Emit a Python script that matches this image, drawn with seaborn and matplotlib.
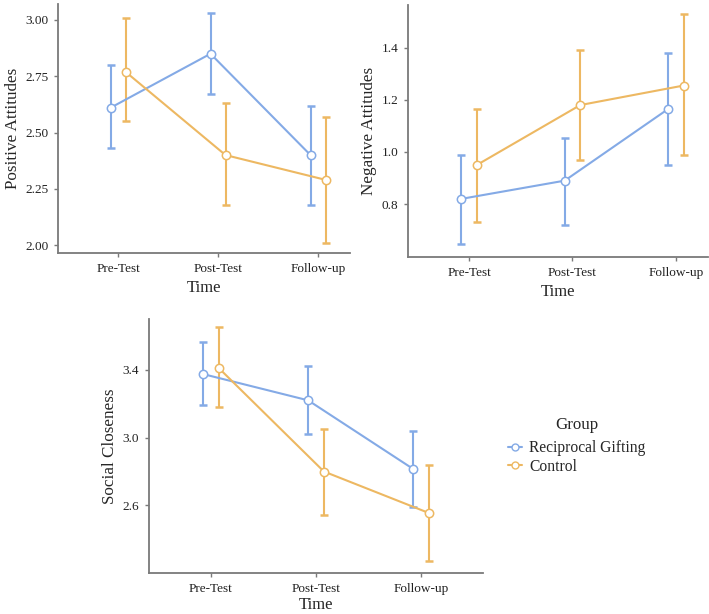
import matplotlib
matplotlib.use("Agg")
import matplotlib.pyplot as plt
import numpy as np
import pandas as pd
import seaborn as sns

times = ["Pre-Test", "Post-Test", "Follow-up"]
groups = ["Reciprocal Gifting", "Control"]

# Positive attitudes: mean, lower, upper
pos_rg_mean = [2.61, 2.85, 2.40]
pos_rg_lo = [2.43, 2.67, 2.18]
pos_rg_hi = [2.80, 3.03, 2.62]
pos_ct_mean = [2.77, 2.40, 2.29]
pos_ct_lo = [2.55, 2.18, 2.01]
pos_ct_hi = [3.01, 2.63, 2.57]

# Negative attitudes
neg_rg_mean = [0.82, 0.89, 1.165]
neg_rg_lo = [0.645, 0.72, 0.95]
neg_rg_hi = [0.99, 1.055, 1.38]
neg_ct_mean = [0.95, 1.18, 1.255]
neg_ct_lo = [0.73, 0.97, 0.99]
neg_ct_hi = [1.165, 1.39, 1.53]

# Social closeness
soc_rg_mean = [3.375, 3.22, 2.815]
soc_rg_lo = [3.19, 3.02, 2.59]
soc_rg_hi = [3.565, 3.42, 3.04]
soc_ct_mean = [3.41, 2.80, 2.555]
soc_ct_lo = [3.18, 2.545, 2.27]
soc_ct_hi = [3.65, 3.05, 2.84]

COLOURS = {"Reciprocal Gifting": "#84AAE6", "Control": "#EDB862"}
AXIS_GREY = "#7a7a7a"
DODGE = 0.075

sns.set_style("ticks")
plt.rcParams["font.family"] = ["Liberation Serif", "DejaVu Serif"]


def make_frame(rg, ct):
    rows = []
    for g, (m, lo, hi) in zip(groups, [rg, ct]):
        off = -DODGE if g == groups[0] else DODGE
        for i, t in enumerate(times):
            rows.append({"time": t, "group": g, "x": i + 1 + off,
                         "mean": m[i], "lo": lo[i], "hi": hi[i]})
    return pd.DataFrame(rows)


def draw(ax, df, ylabel, yticks, fmt, ylim, xlim, xpad=4):
    for g in groups:
        d = df[df["group"] == g]
        ax.errorbar(d["x"], d["mean"], yerr=[d["mean"] - d["lo"], d["hi"] - d["mean"]],
                    fmt="none", ecolor=COLOURS[g], elinewidth=1.5, capsize=3,
                    capthick=1.8, zorder=2)
    n_before = len(ax.lines)
    sns.lineplot(data=df, x="x", y="mean", hue="group", hue_order=groups,
                 palette=COLOURS, marker="o", markersize=6, linewidth=1.5,
                 sort=True, ax=ax, legend=False, zorder=3)
    for ln in ax.lines[n_before:]:
        c = ln.get_color()
        ln.set_markerfacecolor("white")
        ln.set_markeredgecolor(c)
        ln.set_markeredgewidth(1.1)
    ax.set_xlim(*xlim)
    ax.set_ylim(*ylim)
    ax.set_xticks([1, 2, 3])
    ax.set_xticklabels(times)
    ax.set_yticks(yticks)
    ax.set_yticklabels([fmt.format(v) for v in yticks])
    ax.set_xlabel("Time", fontsize=12, labelpad=xpad)
    ax.set_ylabel(ylabel, fontsize=12.3, labelpad=3)
    ax.tick_params(axis="both", labelsize=9.5, color=AXIS_GREY, length=3,
                   width=1, pad=4, labelcolor="#222222")
    for side in ["top", "right"]:
        ax.spines[side].set_visible(False)
    for side in ["left", "bottom"]:
        ax.spines[side].set_color(AXIS_GREY)
        ax.spines[side].set_linewidth(1.3)


W, H = 709, 614
fig = plt.figure(figsize=(W / 100, H / 100), dpi=100)


def add_ax(l, r, t, b):
    return fig.add_axes([l / W, 1 - b / H, (r - l) / W, (b - t) / H])


ax_a = add_ax(58, 350, 4, 253)
ax_b = add_ax(408, 708, 5, 257)
ax_c = add_ax(149, 483, 319, 573)

draw(ax_a, make_frame((pos_rg_mean, pos_rg_lo, pos_rg_hi), (pos_ct_mean, pos_ct_lo, pos_ct_hi)),
     "Positive Attitudes", [2.00, 2.25, 2.50, 2.75, 3.00], "{:.2f}", (1.965, 3.071), (0.40, 3.32))
draw(ax_b, make_frame((neg_rg_mean, neg_rg_lo, neg_rg_hi), (neg_ct_mean, neg_ct_lo, neg_ct_hi)),
     "Negative Attitudes", [0.8, 1.0, 1.2, 1.4], "{:.1f}", (0.597, 1.564), (0.41, 3.31))
draw(ax_c, make_frame((soc_rg_mean, soc_rg_lo, soc_rg_hi), (soc_ct_mean, soc_ct_lo, soc_ct_hi)),
     "Social Closeness", [2.6, 3.0, 3.4], "{:.1f}", (2.201, 3.70), (0.41, 3.59), xpad=1.5)

handles = [plt.Line2D([], [], color=COLOURS[g], lw=1.5, marker="o", markersize=5,
                      markerfacecolor="white", markeredgecolor=COLOURS[g]) for g in groups]
leg = fig.legend(handles, groups, title="Group", loc="center left",
                 bbox_to_anchor=(494 / W, 1 - 446 / H), frameon=False,
                 fontsize=11.2, title_fontsize=12.2, handlelength=0.9,
                 handletextpad=0.45, labelspacing=0.15)
leg._legend_box.sep = 5

fig.savefig("out.png", dpi=100)
